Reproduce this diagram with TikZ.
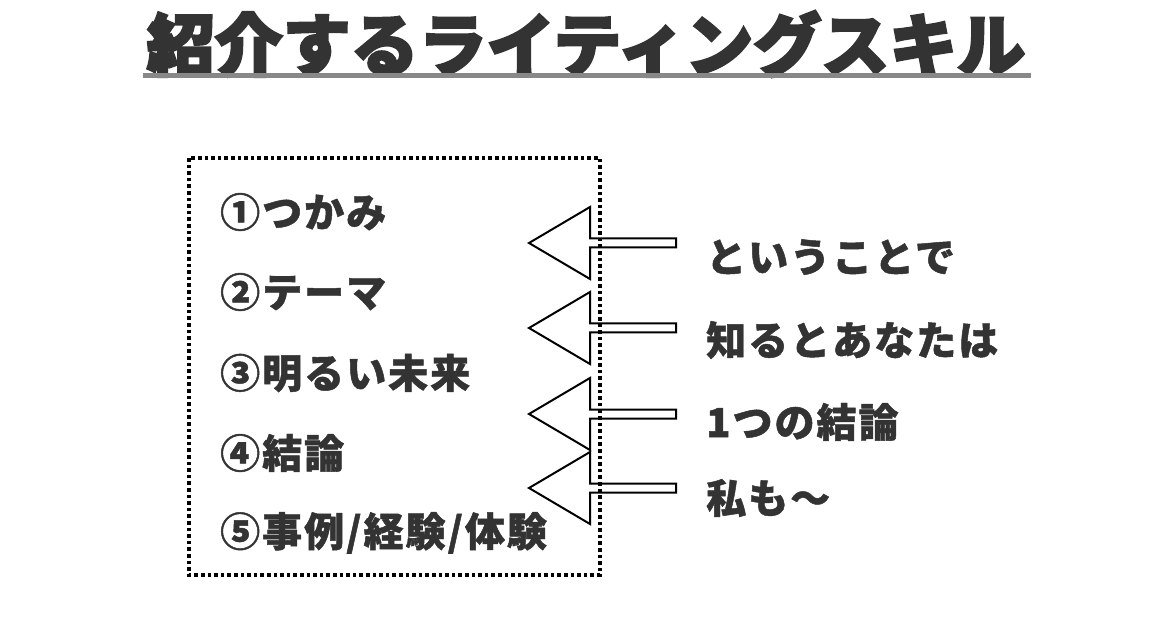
\documentclass[tikz,border=0pt]{standalone}
\usepackage{fontspec}
\newfontfamily\jpfont{Noto Sans CJK JP}[LetterSpace=5, BoldFeatures={FakeBold=1.2}]
\newfontfamily\titlefont{Noto Sans CJK JP}[BoldFeatures={FakeBold=3.5}]
\definecolor{inkgray}{HTML}{333333}
\definecolor{rulegray}{HTML}{888888}
\tikzset{
  item/.style={anchor=west, inner sep=0pt, text=inkgray,
    font=\jpfont\bfseries\fontsize{40}{40}\selectfont},
  blockarrow/.style={draw=black, line width=2pt, line join=miter},
}

\begin{document}
\begin{tikzpicture}[x=1pt, y=-1pt]
      \useasboundingbox (0,0) rectangle (1170,636);
      % title
      \node[inner sep=0pt, text=inkgray, font=\titlefont\bfseries\fontsize{68}{68}\selectfont]
        (title) at (586,44) {紹介するライティングスキル};
      \draw[rulegray, line width=5pt] (143,75.5) -- (1031,75.5);
      % box
      \draw[line width=3.6pt, dash pattern=on 3.6pt off 3pt] (189,158) rectangle (600,575);
      % left items
      \node[item] (tsukami) at (220,212) {①つかみ};
      \node[item] (theme)   at (220,292) {②テーマ};
      \node[item] (mirai)   at (220,373) {③明るい未来};
      \node[item] (ketsuron) at (220,453) {④結論};
      \node[item] (jirei)   at (220,533) {⑤事例/経験/体験};
      % arrows
      \foreach \y in {243,328,414,488} {
        \draw[blockarrow] (676,\y-4.5) -- (590,\y-4.5) -- (590,\y-36)
          -- (529,\y) -- (590,\y+36) -- (590,\y+4.5) -- (676,\y+4.5) -- cycle;
      }
      % right texts
      \node[item] (toiu)  at (706,257) {ということで};
      \node[item] (shiru) at (706,340) {知るとあなたは};
      \node[item] (hitotsu) at (706,422) {1つの結論};
      \node[item] (watashi) at (706,498) {私も〜};
    \end{tikzpicture}
\end{document}
